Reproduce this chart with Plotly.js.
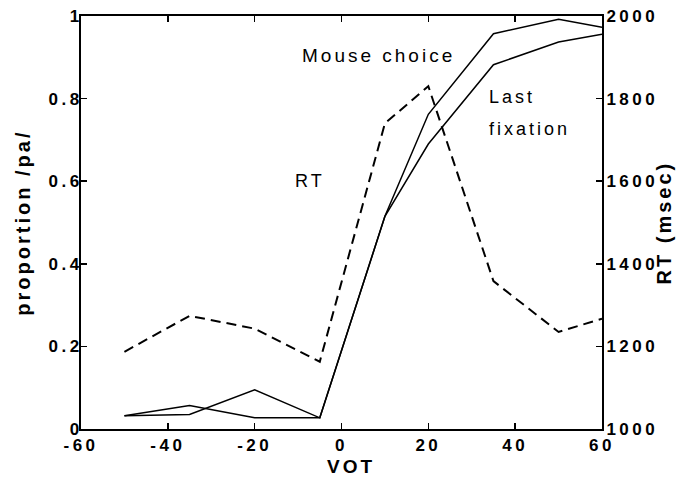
<!DOCTYPE html>
<html>
<head>
<meta charset="utf-8">
<script src="https://cdn.plot.ly/plotly-3.0.1.min.js"></script>
<style>
  html, body { margin: 0; padding: 0; background: #fff; }
  #chart { width: 690px; height: 489px; }
  .xtick text, .ytick text, .y2tick text { letter-spacing: 3.5px; }
  .annotation-text { letter-spacing: 3px; }
</style>
</head>
<body>
<div id="chart"></div>
<script>
// Voice onset time steps (ms)
const vot = [-50, -35, -20, -5, 10, 20, 35, 50, 60];

// Proportion of /pa/ responses
const mouseChoice  = [0.032, 0.035, 0.095, 0.027, 0.515, 0.762, 0.957, 0.992, 0.973];
const lastFixation = [0.032, 0.057, 0.027, 0.027, 0.515, 0.690, 0.882, 0.937, 0.956];

// Response time (msec)
const rt = [1187, 1274, 1243, 1163, 1740, 1830, 1358, 1235, 1267];

const xTicks = [-60, -40, -20, 0, 20, 40, 60];
const yTicks = [0, 0.2, 0.4, 0.6, 0.8, 1];
const yTickText = ['0', '0.2', '0.4', '0.6', '0.8', '1'];
const rtTicks = [1000, 1200, 1400, 1600, 1800, 2000];

const family = 'Liberation Sans, Arial, sans-serif';
const tickFont = { family: family, size: 17, color: '#000', weight: 'bold' };
const titleFont = { family: family, size: 20, color: '#000', weight: 'bold' };
const labelFont = { family: family, size: 18, color: '#000' };

const traces = [
  { x: vot, y: mouseChoice, type: 'scatter', mode: 'lines', name: 'Mouse choice',
    line: { color: '#000', width: 1.5 }, xaxis: 'x', yaxis: 'y' },
  { x: vot, y: lastFixation, type: 'scatter', mode: 'lines', name: 'Last fixation',
    line: { color: '#000', width: 1.5 }, xaxis: 'x', yaxis: 'y' },
  { x: vot, y: rt, type: 'scatter', mode: 'lines', name: 'RT',
    line: { color: '#000', width: 2, dash: '10px,6px' }, xaxis: 'x', yaxis: 'y2' }
];

const axisStyle = {
  ticks: 'inside', ticklen: 6, tickwidth: 1.5, tickcolor: '#000',
  showline: true, linecolor: '#000', linewidth: 2,
  showgrid: false, zeroline: false, tickfont: tickFont
};

const layout = {
  width: 690, height: 489,
  margin: { l: 81, r: 88, t: 16, b: 60 },
  paper_bgcolor: '#fff', plot_bgcolor: '#fff',
  showlegend: false,
  xaxis: Object.assign({}, axisStyle, {
    range: [-60, 60], tickvals: xTicks, ticktext: xTicks.map(String),
    mirror: 'ticks', ticklabelstandoff: 0
  }),
  yaxis: Object.assign({}, axisStyle, {
    range: [0, 1], tickvals: yTicks, ticktext: yTickText,
    ticklabelstandoff: -7
  }),
  yaxis2: Object.assign({}, axisStyle, {
    range: [1000, 2000], tickvals: rtTicks, ticktext: rtTicks.map(String),
    overlaying: 'y', side: 'right', ticklabelstandoff: -1
  }),
  annotations: [
    // axis titles
    { text: 'VOT', xref: 'paper', yref: 'paper', x: 0.518, y: -0.092,
      xanchor: 'center', yanchor: 'middle',
      showarrow: false, font: Object.assign({}, titleFont, { size: 19 }) },
    { text: 'proportion /pa/', xref: 'paper', yref: 'paper', x: -0.113, y: 0.5,
      xanchor: 'center', yanchor: 'middle',
      textangle: -90, showarrow: false, font: titleFont },
    { text: 'RT (msec)', xref: 'paper', yref: 'paper', x: 1.119, y: 0.5,
      xanchor: 'center', yanchor: 'middle',
      textangle: -90, showarrow: false, font: titleFont },
    // series labels
    { text: 'Mouse choice', x: 8.6, y: 0.905, xref: 'x', yref: 'y', xanchor: 'center',
      showarrow: false, font: Object.assign({}, labelFont, { size: 19 }) },
    { text: 'Last', x: 33.5, y: 0.805, xref: 'x', yref: 'y', xanchor: 'left', showarrow: false, font: labelFont },
    { text: 'fixation', x: 33.5, y: 0.727, xref: 'x', yref: 'y', xanchor: 'left', showarrow: false, font: labelFont },
    { text: 'RT', x: -7.3, y: 0.6, xref: 'x', yref: 'y', xanchor: 'center', showarrow: false, font: labelFont }
  ]
};

Plotly.newPlot('chart', traces, layout, { displayModeBar: false, staticPlot: true });
</script>
</body>
</html>
